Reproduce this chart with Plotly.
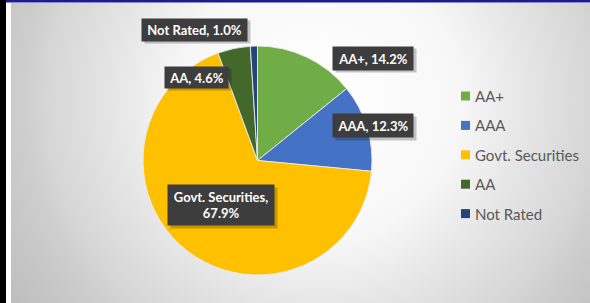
import base64
import plotly.graph_objects as go

# ---- data ----
labels = ["AA+", "AAA", "Govt. Securities", "AA", "Not Rated"]
values = [14.2, 12.3, 67.9, 4.6, 1.0]
colors = ["#70AD47", "#4472C4", "#FFC000", "#43682B", "#264478"]

# ---- layout constants (pixels) ----
W, H = 590, 303
label_centers = [(373, 58.5), (373, 125.5), (221, 205), (196.7, 77), (194.5, 30)]
label_boxes = [(80, 23), (80, 23), (106, 40), (63, 21), (105, 22)]
label_wrap = [False, False, True, False, False]
legend_x, legend_y0, legend_step = 461, 96, 29.4


def px(x):
    return x / W


def py(y):
    return 1 - y / H


# background radial gradient (Excel-like chart area fill)
svg = (
    '<svg xmlns="http://www.w3.org/2000/svg" width="579" height="300" viewBox="0 0 579 300" '
    'preserveAspectRatio="none"><defs><radialGradient id="g" gradientUnits="userSpaceOnUse" '
    'cx="309" cy="97" r="380">'
    '<stop offset="0" stop-color="#ffffff"/>'
    '<stop offset="0.37" stop-color="#f7f7f7"/>'
    '<stop offset="0.54" stop-color="#e6e6e6"/>'
    '<stop offset="0.72" stop-color="#d6d6d6"/>'
    '<stop offset="0.78" stop-color="#cecece"/>'
    '<stop offset="0.88" stop-color="#c5c5c5"/>'
    '<stop offset="1" stop-color="#bcbcbc"/>'
    '</radialGradient></defs><rect width="579" height="300" fill="url(#g)"/></svg>'
)
bg_uri = "data:image/svg+xml;base64," + base64.b64encode(svg.encode()).decode()

fig = go.Figure()
fig.add_trace(
    go.Pie(
        labels=labels,
        values=values,
        sort=False,
        direction="clockwise",
        rotation=0,
        marker=dict(colors=colors, line=dict(color="rgba(235,235,235,0.9)", width=1)),
        textinfo="none",
        hoverinfo="label+percent",
        showlegend=False,
        domain=dict(x=[px(143), px(372)], y=[py(275), py(46)]),
    )
)

annotations = []
for i, (lab, val) in enumerate(zip(labels, values)):
    cx, cy = label_centers[i]
    bw, bh = label_boxes[i]
    sep = ",<br>" if label_wrap[i] else ", "
    txt = f"{lab}{sep}{val:.1f}%"
    # soft shadow
    annotations.append(
        dict(
            x=px(cx), y=py(cy), xref="paper", yref="paper", xanchor="center", yanchor="middle",
            text=" ", showarrow=False, width=bw, height=bh, borderpad=0,
            bgcolor="rgba(0,0,0,0.22)", xshift=2.5, yshift=-2.5,
        )
    )
    annotations.append(
        dict(
            x=px(cx), y=py(cy), xref="paper", yref="paper", xanchor="center", yanchor="middle",
            text=f"<b>{txt}</b>", showarrow=False, width=bw, height=bh, borderpad=0,
            align="center", valign="middle", bgcolor="#3d3d3d",
            font=dict(family="Lato, 'Open Sans', sans-serif", size=13, color="#ffffff"),
        )
    )

shapes = [
    dict(type="rect", xref="paper", yref="paper", x0=0, x1=px(6), y0=0, y1=1,
         fillcolor="#000000", line=dict(width=0), layer="above"),
    dict(type="rect", xref="paper", yref="paper", x0=px(6), x1=1, y0=py(2.5), y1=1,
         fillcolor="#1c1c8e", line=dict(width=0), layer="above"),
]

# legend (custom, to match Excel key spacing)
for i, (lab, col) in enumerate(zip(labels, colors)):
    yc = legend_y0 + i * legend_step
    shapes.append(
        dict(type="rect", xref="paper", yref="paper", x0=px(legend_x), x1=px(legend_x + 9),
             y0=py(yc + 4.5), y1=py(yc - 4.5), fillcolor=col, line=dict(width=0))
    )
    annotations.append(
        dict(
            x=px(legend_x + 12), y=py(yc), xref="paper", yref="paper", xanchor="left",
            yanchor="middle", text=lab, showarrow=False,
            font=dict(family="Lato, 'Open Sans', sans-serif", size=15, color="#595959"),
        )
    )

fig.update_layout(
    width=W,
    height=H,
    margin=dict(l=0, r=0, t=0, b=0),
    paper_bgcolor="#ffffff",
    plot_bgcolor="rgba(0,0,0,0)",
    showlegend=False,
    images=[
        dict(source=bg_uri, xref="paper", yref="paper", x=px(11), y=py(3), sizex=px(579),
             sizey=300 / H, xanchor="left", yanchor="top", sizing="stretch", layer="below")
    ],
    annotations=annotations,
    shapes=shapes,
)

fig.write_html(
    "out.html",
    config={"displayModeBar": False},
    post_script="document.body.style.margin='0';document.body.style.overflow='hidden';",
)
